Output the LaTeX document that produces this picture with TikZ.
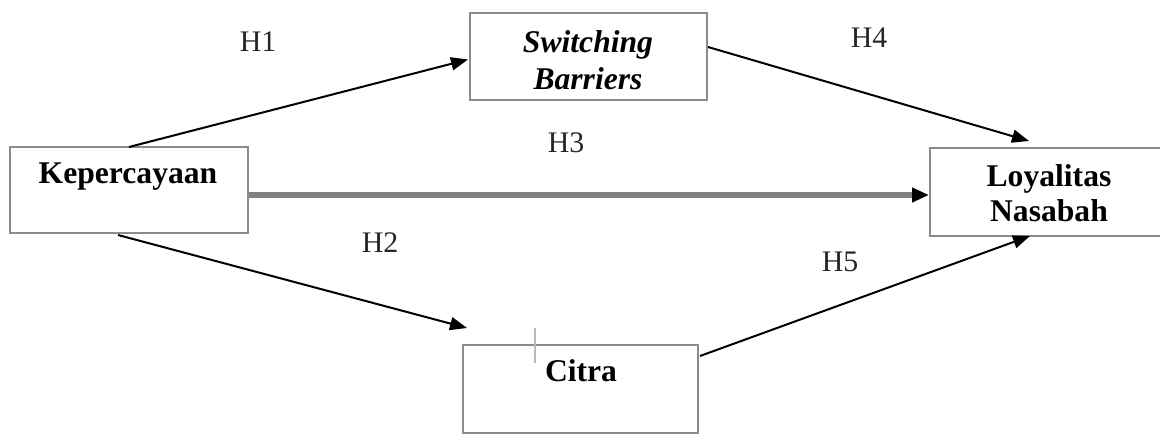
\documentclass[tikz,border=0pt]{standalone}
\usepackage{fontspec}
\setmainfont{Liberation Serif}
\usetikzlibrary{arrows.meta,calc}
\definecolor{boxgray}{HTML}{8C8C8C}
\begin{document}
\begin{tikzpicture}[x=0.02cm,y=-0.02cm,
  box/.style={draw=boxgray,line width=0.05cm,rectangle,inner sep=0pt,outer sep=0pt},
  lbl/.style={inner sep=0pt,anchor=base,font=\fontsize{18}{21}\selectfont\bfseries},
  hyp/.style={inner sep=0pt,anchor=base,text=black!85,font=\fontsize{17}{20}\selectfont},
  arr/.style={line width=0.04cm,-{Triangle[length=0.34cm,width=0.26cm]}},
  arrthick/.style={draw=gray,line width=0.12cm,-{Triangle[length=0.34cm,width=0.28cm,color=black]}}]
\useasboundingbox (0,0) rectangle (1160,435);
\clip (0,0) rectangle (1160,435);
% boxes
\node[box,minimum width=4.76cm,minimum height=1.72cm] (kep) at (129,190) {};
\node[box,minimum width=4.74cm,minimum height=1.74cm] (sw) at (588.5,56.5) {};
\node[box,minimum width=5.00cm,minimum height=1.76cm] (loy) at (1055,192) {};
\node[box,minimum width=4.70cm,minimum height=1.76cm] (cit) at (580.5,389) {};
% texts
\node[lbl] (tkep) at (128,184) {Kepercayaan};
\node[lbl] (tsw1) at (588,53) {\itshape Switching};
\node[lbl] (tsw2) at (588,90) {\itshape Barriers};
\node[lbl] (tloy1) at (1049,187) {Loyalitas};
\node[lbl] (tloy2) at (1049,222) {Nasabah};
\node[lbl] (tcit) at (581,382) {Citra};
% stray mark
\draw[boxgray!60,line width=0.03cm] (535,328) -- (535,363);
% connector end points
\coordinate (h2s) at (118,235);
\coordinate (h2e) at (467,328);
\coordinate (h4s) at (708,47);
\coordinate (h4e) at (1029,141);
\coordinate (h5s) at (700,356);
\coordinate (h5e) at (1030,236);
\coordinate (h3s) at (249,195);
\coordinate (h3e) at (929,195);
% connectors
\draw[arr] (kep.north) -- ($(sw.west)+(-2,3)$);
\draw[arr] (h2s) -- (h2e);
\draw[arrthick] (h3s) -- (h3e);
\draw[arr] (h4s) -- (h4e);
\draw[arr] (h5s) -- (h5e);
% hypothesis labels
\node[hyp] (l1) at (258,52) {H1};
\node[hyp] (l2) at (380,253) {H2};
\node[hyp] (l3) at (566,153) {H3};
\node[hyp] (l4) at (869,48) {H4};
\node[hyp] (l5) at (840,272) {H5};
\end{tikzpicture}
\end{document}
